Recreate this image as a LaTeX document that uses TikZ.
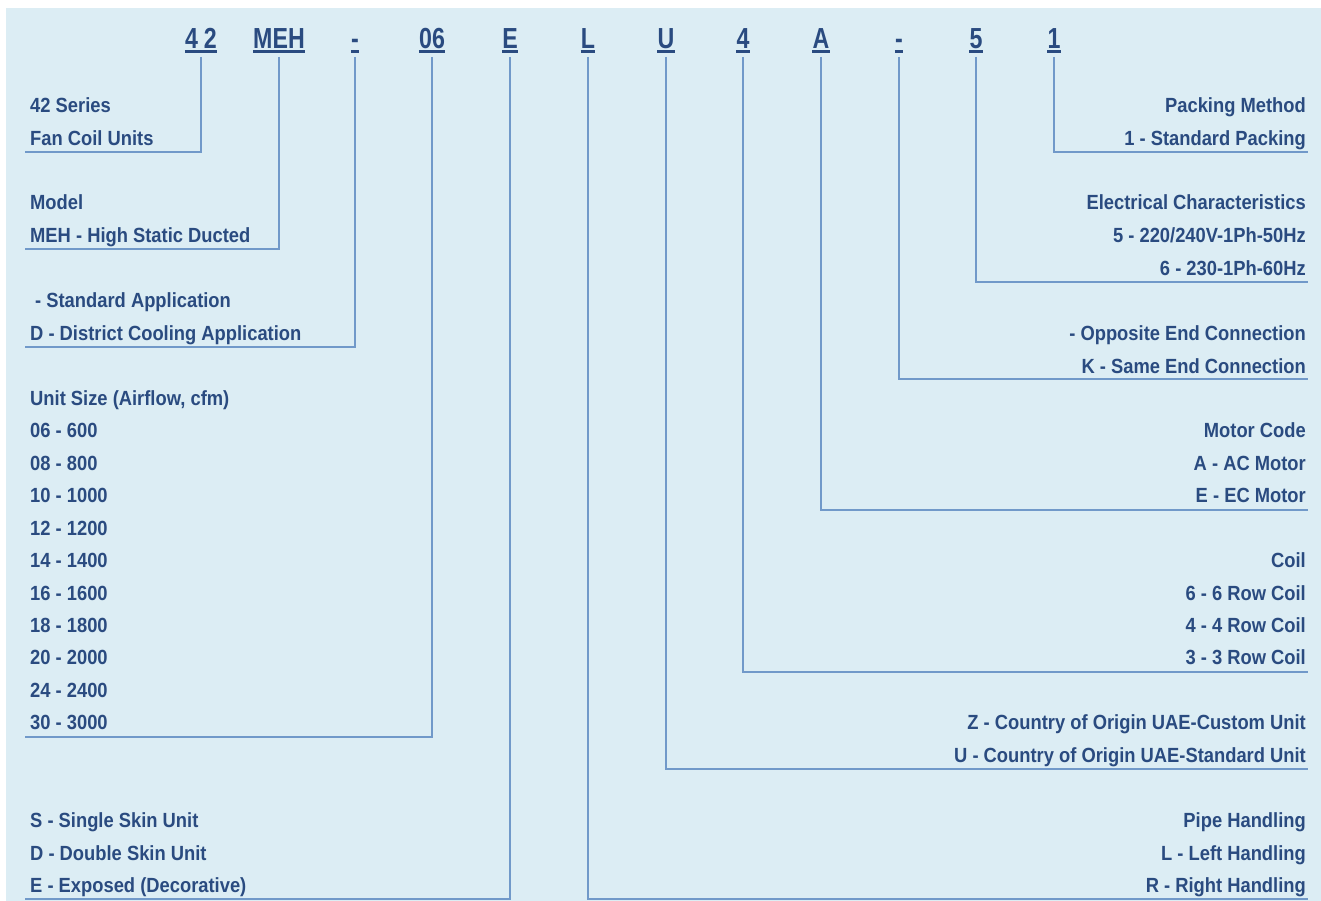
\documentclass[tikz,border=0pt]{standalone}
\usepackage{fontspec}
\newfontfamily\labfont{Liberation Sans}[FakeStretch=0.895]
\newfontfamily\codefont{Liberation Sans}[FakeStretch=0.80]
\definecolor{bgblue}{HTML}{DCEDF4}
\definecolor{navy}{HTML}{2A4B80}
\definecolor{lineblue}{HTML}{7199C9}
\begin{document}
\begin{tikzpicture}[x=1pt,y=-1pt,
  lab/.style={inner sep=0pt,text=navy,font=\labfont\bfseries\fontsize{20.5}{24}\selectfont},
  labL/.style={lab,anchor=base west},
  labR/.style={lab,anchor=base east},
  code/.style={inner sep=0pt,anchor=base,text=navy,font=\codefont\bfseries\fontsize{29}{32}\selectfont},
  uline/.style={draw=navy,line width=3pt},
  conn/.style={draw=lineblue,line width=1.6pt}]
\useasboundingbox (0,0) rectangle (1321,901);
\fill[bgblue] (6,8) rectangle (1321,901);
% code letters
\foreach \n/\x/\t in {c1/201/{4\hspace{6pt}2},c2/279/MEH,c3/355/-,c4/432/06,c5/510/E,c6/588/L,c7/666/U,c8/743/4,c9/821/A,c10/899/-,c11/976/5,c12/1054/1}{
  \node[code] (\n) at (\x,48.5) {\t};
  \draw[uline] ([yshift=-3pt]\n.base west) -- ([yshift=-3pt]\n.base east);
}
% left labels
\foreach \i/\y/\t in {1/105/42 Series,2/138/Fan Coil Units,3/202/Model,4/235/MEH - High Static Ducted,
  5/300/{\hspace{5pt}- Standard Application},6/333/D - District Cooling Application,
  7/398/{Unit Size (Airflow, cfm)},8/430/06 - 600,9/463/08 - 800,10/495/10 - 1000,11/528/12 - 1200,
  12/560/14 - 1400,13/593/16 - 1600,14/625/18 - 1800,15/657/20 - 2000,16/690/24 - 2400,17/722/30 - 3000,
  18/820/S - Single Skin Unit,19/853/D - Double Skin Unit,20/885/E - Exposed (Decorative)}{
  \node[labL] (l\i) at (30,\y+7.5) {\t};
}
% right labels
\foreach \i/\y/\t in {1/105/Packing Method,2/138/1 - Standard Packing,3/202/Electrical Characteristics,
  4/235/{5 - 220/240V-1Ph-50Hz},5/268/6 - 230-1Ph-60Hz,6/333/- Opposite End Connection,
  7/366/K - Same End Connection,8/430/Motor Code,9/463/A - AC Motor,10/495/E - EC Motor,
  11/560/Coil,12/593/6 - 6 Row Coil,13/625/4 - 4 Row Coil,14/657/3 - 3 Row Coil,
  15/722/Z - Country of Origin UAE-Custom Unit,16/755/U - Country of Origin UAE-Standard Unit,
  17/820/Pipe Handling,18/853/L - Left Handling,19/885/R - Right Handling}{
  \node[labR] (r\i) at (1306,\y+7.5) {\t};
}
% connector end points
\coordinate (e1) at (25,152);
\coordinate (e2) at (25,249);
\coordinate (e3) at (25,347);
\coordinate (e4) at (25,737);
\coordinate (e5) at (25,899);
\coordinate (e6) at (1308,899);
\coordinate (e7) at (1308,769);
\coordinate (e8) at (1308,672);
\coordinate (e9) at (1308,510);
\coordinate (e10) at (1308,379);
\coordinate (e11) at (1308,282);
\coordinate (e12) at (1308,152);
\foreach \k in {1,...,12}{
  \draw[conn] ([yshift=-8.5pt]c\k.base) |- (e\k);
}
\end{tikzpicture}
\end{document}
